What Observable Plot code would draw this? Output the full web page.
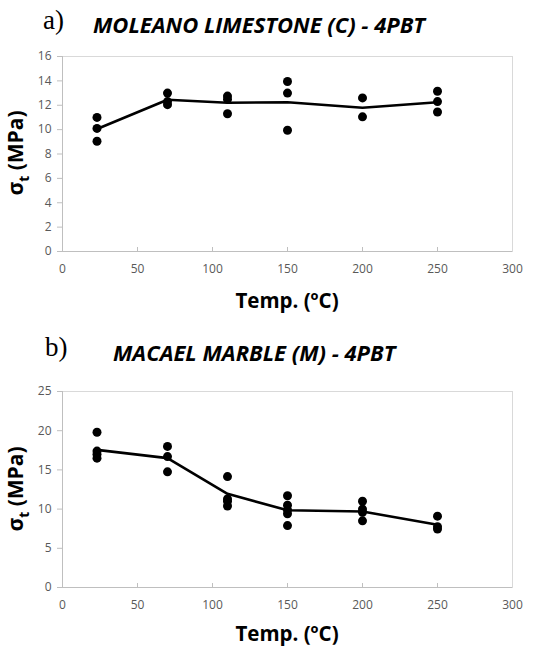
<!DOCTYPE html>
<html><head><meta charset="utf-8">
<script src="https://cdn.jsdelivr.net/npm/d3@7"></script>
<script src="https://cdn.jsdelivr.net/npm/@observablehq/plot@0.6"></script>
<style>
body{margin:0;background:#fff;width:536px;height:648px;overflow:hidden;font-family:"Open Sans",sans-serif;color:#000;}
.panel{position:relative;width:536px;}
.panel svg{position:absolute;left:0;top:0;}
.t{position:absolute;white-space:nowrap;line-height:1;}
.lab{font-family:"Liberation Serif",serif;font-size:27px;}
.name{font-weight:700;font-style:italic;font-size:22px;}
.ylab{position:absolute;transform:translate(-50%,-50%) rotate(-90deg);font-weight:700;font-size:21px;white-space:nowrap;line-height:1;}
.xlab{position:absolute;transform:translate(-50%,-50%);font-weight:700;font-size:20.5px;white-space:nowrap;line-height:1;}
</style></head><body>
<div id="a" class="panel" style="height:320px"></div>
<div id="b" class="panel" style="height:328px"></div>
<script>
// Panel a) MOLEANO LIMESTONE (C) - 4PBT
const ptTempA = [23,23,23, 70,70,70, 110,110,110, 150,150,150, 200,200, 250,250,250];
const ptValA  = [11.0,10.1,9.05, 13.0,12.3,12.05, 12.75,12.5,11.3, 13.95,13.0,9.95, 12.6,11.05, 13.15,12.3,11.45];
const meanTempA = [23,70,110,150,200,250];
const meanValA  = [10.05,12.45,12.2,12.25,11.8,12.25];
const yTicksA = [0,2,4,6,8,10,12,14,16];

// Panel b) MACAEL MARBLE (M) - 4PBT
const ptTempB = [23,23,23,23, 70,70,70, 110,110,110,110, 150,150,150,150,150, 200,200,200,200, 250,250,250];
const ptValB  = [19.8,17.4,17.0,16.5, 18.0,16.7,14.75, 14.15,11.3,11.0,10.4, 11.7,10.5,9.9,9.4,7.9, 11.0,10.0,9.6,8.5, 9.1,7.75,7.45];
const meanTempB = [23,70,110,150,200,250];
const meanValB  = [17.55,16.5,11.95,9.85,9.7,8.0];
const yTicksB = [0,5,10,15,20,25];

const xTicks = [0,50,100,150,200,250,300];

function chart({ptT, ptV, mT, mV, yTicks, yMax, height, marginTop, marginBottom}) {
  const pts = ptT.map((t,i)=>({t, v: ptV[i]}));
  const line = mT.map((t,i)=>({t, v: mV[i]}));
  return Plot.plot({
    width: 536, height, marginLeft: 62, marginRight: 24, marginTop, marginBottom,
    style: {fontFamily: "'Open Sans', sans-serif", fontSize: "12px", color: "#595959", background: "transparent", overflow: "visible"},
    x: {domain: [0,300], ticks: xTicks},
    y: {domain: [0,yMax], ticks: yTicks},
    marks: [
      Plot.frame({stroke: "#d9d9d9"}),
      Plot.ruleX([0], {stroke: "#bfbfbf"}),
      Plot.ruleY([0], {stroke: "#bfbfbf"}),
      Plot.ruleX(xTicks.slice(1,-1), {x: d=>d, y1: 0, y2: 0, insetTop: -4, stroke: "#bfbfbf"}),
      Plot.axisY({ticks: yTicks, tickSize: 5, tickPadding: 6, stroke: "#bfbfbf", label: null, fill: "#595959"}),
      Plot.axisX({ticks: xTicks, tickSize: 0, tickPadding: 13, label: null, fill: "#595959"}),
      Plot.line(line, {x: "t", y: "v", stroke: "#000", strokeWidth: 2.6, curve: "linear"}),
      Plot.dot(pts, {x: "t", y: "v", r: 4.5, fill: "#000", stroke: "none"})
    ]
  });
}

const a = document.getElementById("a");
a.append(chart({ptT: ptTempA, ptV: ptValA, mT: meanTempA, mV: meanValA, yTicks: yTicksA, yMax: 16, height: 320, marginTop: 56, marginBottom: 69}));
a.insertAdjacentHTML("beforeend",
  `<div class="t lab" style="left:43px;top:7px">a)</div>
   <div class="t name" style="left:93px;top:13px">MOLEANO LIMESTONE (C) - 4PBT</div>
   <div class="ylab" style="left:18px;top:153px">σ<sub style="font-size:14px">t</sub> (MPa)</div>
   <div class="xlab" style="left:287px;top:300px">Temp. (ºC)</div>`);

const b = document.getElementById("b");
b.append(chart({ptT: ptTempB, ptV: ptValB, mT: meanTempB, mV: meanValB, yTicks: yTicksB, yMax: 25, height: 328, marginTop: 71, marginBottom: 61}));
b.insertAdjacentHTML("beforeend",
  `<div class="t lab" style="left:45px;top:14px">b)</div>
   <div class="t name" style="left:113px;top:21px">MACAEL MARBLE (M) - 4PBT</div>
   <div class="ylab" style="left:18px;top:169px">σ<sub style="font-size:14px">t</sub> (MPa)</div>
   <div class="xlab" style="left:287px;top:313px">Temp. (ºC)</div>`);
</script>
</body></html>
